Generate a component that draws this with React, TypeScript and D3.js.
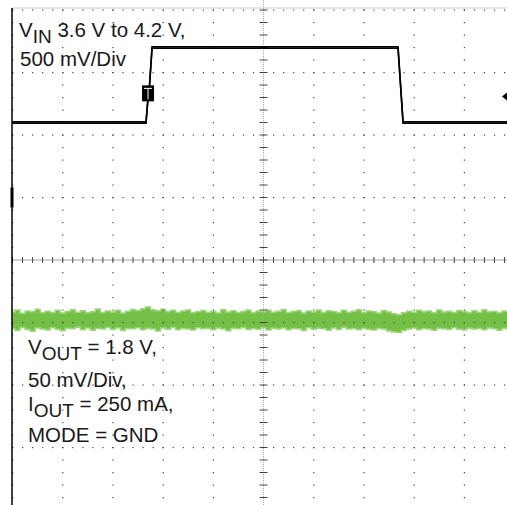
import * as d3 from 'd3';

const WIDTH = 507;
const HEIGHT = 505;

// scope screen: 10 horizontal divisions, 8 vertical divisions
const xDivs = [-5, -4, -3, -2, -1, 0, 1, 2, 3, 4, 5];
const yDivs = [-4, -3, -2, -1, 0, 1, 2, 3, 4];
const MINOR = 5;

// CH1: VIN step 3.6 V -> 4.2 V, time in divisions
const vinTime = [-5, -2.34, -2.29, -2.27, -2.22, 2.68, 2.78, 5];
const vinVolts = [3.6, 3.6, 3.85, 3.9, 4.2, 4.2, 3.6, 3.6];
const VIN_V_PER_DIV = 0.5;
const VIN_REF_V = 3.6;
const VIN_REF_DIV = 2.21;

// trigger point
const triggerTime = -2.3;
const triggerVolts = 3.82;

// CH2: VOUT = 1.8 V, 50 mV/div, noise envelope in mV, one sample per 0.1 div
const VOUT_V_PER_DIV = 0.05;
const VOUT_REF_DIV = -0.96;
const voutTop = [
  6.2, 8.0, 5.4, 7.2, 6.6, 8.6, 5.8, 7.0, 6.0, 7.8,
  5.6, 6.8, 8.2, 6.2, 7.4, 5.8, 6.6, 8.8, 6.0, 7.2,
  6.4, 7.8, 5.6, 7.0, 8.4, 7.6, 9.0, 10.4, 8.2, 7.4,
  8.6, 6.6, 7.8, 6.0, 7.2, 8.0, 5.8, 6.8, 7.6, 6.2,
  7.0, 5.6, 8.2, 6.4, 7.4, 6.0, 6.8, 8.0, 5.8, 7.2,
  6.6, 7.8, 6.2, 7.0, 8.4, 6.0, 6.8, 7.6, 5.6, 7.2,
  6.4, 8.0, 6.0, 7.4, 6.8, 5.8, 7.8, 6.2, 7.0, 8.2,
  6.0, 7.2, 6.6, 5.6, 7.6, 6.4, 5.0, 4.2, 5.8, 7.0,
  6.2, 7.8, 6.6, 7.2, 5.8, 8.0, 6.4, 7.0, 6.0, 7.6,
  6.8, 5.8, 7.4, 6.2, 8.2, 6.6, 7.0, 5.8, 7.2, 6.4, 7.0,
];
const voutBottom = [
  -6.8, -8.4, -6.0, -7.6, -9.0, -6.4, -7.2, -8.0, -6.2, -7.4,
  -8.6, -6.6, -7.0, -5.8, -7.8, -6.4, -8.2, -6.8, -7.2, -6.0,
  -7.6, -6.4, -8.4, -6.8, -7.0, -6.2, -7.8, -6.6, -7.2, -8.8,
  -6.4, -7.4, -6.0, -7.8, -6.8, -7.2, -8.0, -6.2, -7.0, -6.6,
  -7.8, -6.4, -7.2, -8.6, -6.6, -7.0, -6.0, -7.6, -6.8, -7.4,
  -6.2, -8.0, -6.6, -7.2, -6.4, -7.8, -6.8, -7.0, -8.4, -6.2,
  -7.4, -6.6, -7.0, -8.2, -6.4, -7.6, -6.0, -7.2, -6.8, -7.8,
  -6.6, -7.4, -8.0, -6.8, -7.2, -8.8, -9.6, -10.0, -8.4, -7.2,
  -6.4, -7.8, -6.8, -7.2, -8.2, -6.6, -7.0, -7.6, -6.2, -7.4,
  -8.0, -6.6, -7.2, -6.8, -7.8, -6.4, -7.0, -8.2, -6.6, -7.4, -7.0,
];
const voutTime = voutTop.map((_, i) => -5 + i / 10);

const x = d3.scaleLinear().domain([-5, 5]).range([12.5, 514.5]);
const y = d3.scaleLinear().domain([-4, 4]).range([510, 10]);

const vinY = (v: number) => y((v - VIN_REF_V) / VIN_V_PER_DIV + VIN_REF_DIV);
const voutY = (mv: number) => y(mv / 1000 / VOUT_V_PER_DIV + VOUT_REF_DIV);

const font = '"Liberation Sans", Arial, sans-serif';

const App = () => {
  const minorX = d3.range(-5, 5.01, 1 / MINOR);
  const minorY = d3.range(-4, 4.01, 1 / MINOR);

  const vinLine = d3.line<number>()
    .x((_, i) => x(vinTime[i]))
    .y(d => vinY(d));

  const voutArea = d3.area<number>()
    .x((_, i) => x(voutTime[i]))
    .y0((_, i) => voutY(voutBottom[i]))
    .y1(d => voutY(d))
    .curve(d3.curveStep);

  const tx = x(triggerTime);
  const ty = vinY(triggerVolts);

  return (
    <div style={{ position: 'absolute', left: 0, top: 0 }}>
      <svg width={WIDTH} height={HEIGHT} style={{ display: 'block', background: '#fff' }}>
        {/* CH2 VOUT noise */}
        <path d={voutArea(voutTop) || ''} fill="#74c046" stroke="#9fd77e" strokeWidth={1.4} />

        {/* grid dots */}
        <g fill="#444">
          {xDivs.filter(d => d !== 0).map(d =>
            minorY.map(m => (
              <rect key={`v${d}_${m}`} x={x(d) - 0.5} y={y(m) - 0.5} width={1.2} height={1.2} />
            ))
          )}
          {yDivs.filter(d => d !== 0).map(d =>
            minorX.map(m => (
              <rect key={`h${d}_${m}`} x={x(m) - 0.5} y={y(d) - 0.5} width={1.2} height={1.2} />
            ))
          )}
        </g>

        {/* center axes with ticks */}
        <g stroke="#444" strokeWidth={1}>
          <line x1={x(-5)} x2={WIDTH} y1={y(0)} y2={y(0)} strokeDasharray="1,1" />
          <line x1={x(0)} x2={x(0)} y1={0} y2={HEIGHT} stroke="#aaa" strokeDasharray="1,1" />
          {minorX.map(m => (
            <line key={`tx${m}`} x1={x(m)} x2={x(m)} y1={y(0) - 3} y2={y(0) + 3} />
          ))}
          {minorY.map(m => (
            <line key={`ty${m}`} x1={x(0) - 4} x2={x(0) + 4} y1={y(m)} y2={y(m)} />
          ))}
        </g>

        {/* frame */}
        <line x1={12} x2={WIDTH} y1={8} y2={8} stroke="#ccc" strokeWidth={1} />
        <line x1={12} x2={12} y1={8} y2={HEIGHT} stroke="#000" strokeWidth={1.5} />
        <rect x={10.5} y={y(1.16)} width={3} height={y(0.84) - y(1.16)} fill="#000" />

        {/* CH1 VIN trace */}
        <path d={vinLine(vinVolts) || ''} fill="none" stroke="#000" strokeWidth={1.6} />
        <path d={vinLine(vinVolts) || ''} fill="none" stroke="#000" strokeWidth={1.6}
          transform="translate(0,1.4)" />

        {/* trigger markers */}
        <rect x={tx - 6} y={ty - 9} width={12} height={16} fill="#000" />
        <path d={`M${tx - 4},${ty - 6}H${tx + 4}M${tx},${ty - 6}V${ty + 5}`} stroke="#fff" strokeWidth={1} fill="none" />
        <path d={`M${WIDTH - 5},${ty + 2}L${WIDTH},${ty - 2}V${ty + 6}Z`} fill="#000" />

        {/* annotations */}
        <g fontFamily={font} fill="#1a1a1a" fontSize={20.5}>
          <text x={19} y={37}>
            V<tspan fontSize={19} dy={6}>IN</tspan><tspan dy={-6}> 3.6 V to 4.2 V,</tspan>
          </text>
          <text x={20} y={66}>500 mV/Div</text>
          <text x={28} y={354}>
            V<tspan fontSize={19} dy={6}>OUT</tspan><tspan dy={-6}> = 1.8 V,</tspan>
          </text>
          <text x={28} y={387}>50 mV/Div,</text>
          <text x={28} y={411}>
            I<tspan fontSize={19} dy={6}>OUT</tspan><tspan dy={-6}> = 250 mA,</tspan>
          </text>
          <text x={28} y={442}>MODE = GND</text>
        </g>
      </svg>
    </div>
  );
};

export default App;
